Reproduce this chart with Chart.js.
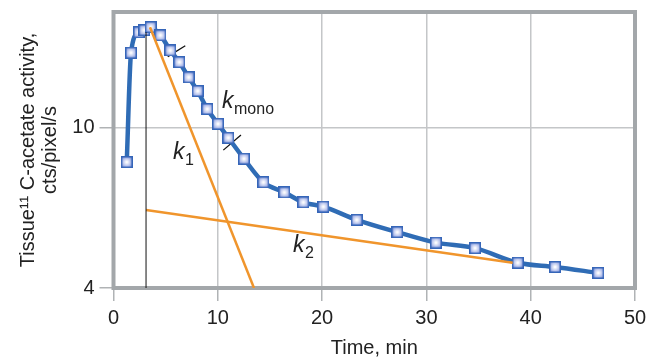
<!DOCTYPE html>
<html>
<head>
<meta charset="utf-8">
<script src="https://cdn.jsdelivr.net/npm/chart.js@4"></script>
<style>
  html, body { margin: 0; padding: 0; background: #fff; }
  #wrap { width: 648px; height: 360px; }
</style>
</head>
<body>
<div id="wrap"><canvas id="acetateChart" width="648" height="360"></canvas></div>
<script>
// measured tissue curve (time in min, activity in cts/pixel/s)
const timeMin = [1.27, 1.68, 2.44, 2.95, 3.57, 4.5, 5.45, 6.31, 7.21, 8.07, 8.99, 10.02, 11.01,
                 12.51, 14.37, 16.38, 18.2, 20.12, 23.32, 27.21, 30.92, 34.66, 38.76, 42.33, 46.48];
const activity = [8.2, 15.3, 17.2, 17.4, 17.7, 16.9, 15.5, 14.5, 13.3, 12.3, 11.1, 10.2, 9.42,
                  8.36, 7.31, 6.9, 6.52, 6.36, 5.9, 5.5, 5.18, 5.02, 4.62, 4.51, 4.36];

// fitted slopes
const k1X = [3.5, 13.47];
const k1Y = [17.7, 4.0];
const k2X = [3.12, 38.27];
const k2Y = [6.24, 4.62];

// vertical marker at start of washout
const startX = [3.12, 3.12];
const startY = [4, 17.2];

// short slashes marking the kmono fit range
const slashAX = [5.2, 6.88];
const slashAY = [14.96, 15.92];
const slashBX = [10.53, 12.22];
const slashBY = [8.78, 9.57];

const xTicks = [0, 10, 20, 30, 40, 50];
const yTicks = [4, 10];

const pairs = (xs, ys) => xs.map((x, i) => ({ x: x, y: ys[i] }));
const FONT = '"Liberation Sans", Arial, sans-serif';

// square marker with a soft light centre
function makeMarker() {
    const c = document.createElement('canvas');
    c.width = 12; c.height = 12;
    const g = c.getContext('2d');
    const grad = g.createRadialGradient(6, 6, 0.5, 6, 6, 7);
    grad.addColorStop(0, '#ffffff');
    grad.addColorStop(0.6, '#aebbea');
    grad.addColorStop(1, '#7088d4');
    g.fillStyle = grad;
    g.fillRect(0, 0, 12, 12);
    g.strokeStyle = '#3565b8';
    g.lineWidth = 1.5;
    g.strokeRect(0.75, 0.75, 10.5, 10.5);
    return c;
}
const marker = makeMarker();

// thick grey frame round the plot area
const framePlugin = {
    id: 'frame',
    beforeDatasetsDraw(chart) {
        const a = chart.chartArea;
        const ctx = chart.ctx;
        ctx.save();
        ctx.strokeStyle = '#a3a7aa';
        ctx.lineWidth = 4;
        ctx.strokeRect(a.left, a.top, a.right - a.left, a.bottom - a.top);
        ctx.restore();
    }
};

// k labels with subscripts
const labelPlugin = {
    id: 'kLabels',
    afterDatasetsDraw(chart) {
        const ctx = chart.ctx;
        ctx.save();
        ctx.fillStyle = '#222';
        ctx.textBaseline = 'alphabetic';
        const put = (x, y, sub) => {
            ctx.font = 'italic 23px ' + FONT;
            ctx.fillText('k', x, y);
            const w = ctx.measureText('k').width;
            ctx.font = '16px ' + FONT;
            ctx.fillText(sub, x + w + 0.5, y + 6);
        };
        put(222, 108, 'mono');
        put(173, 159, '1');
        put(293, 252, '2');
        ctx.restore();
    }
};

const ctx = document.getElementById('acetateChart').getContext('2d');

new Chart(ctx, {
    type: 'scatter',
    data: {
        datasets: [
            {
                data: pairs(startX, startY),
                showLine: true, borderColor: '#111', borderWidth: 1, pointRadius: 0
            },
            {
                data: pairs(k1X, k1Y),
                showLine: true, borderColor: '#f0952c', borderWidth: 2.5, pointRadius: 0
            },
            {
                data: pairs(k2X, k2Y),
                showLine: true, borderColor: '#f0952c', borderWidth: 2.5, pointRadius: 0
            },
            {
                data: pairs(timeMin, activity),
                showLine: true,
                borderColor: '#2f6cb5',
                borderWidth: 4.5,
                cubicInterpolationMode: 'monotone',
                pointStyle: marker,
                pointRadius: 6
            },
            {
                data: pairs(slashAX, slashAY),
                showLine: true, borderColor: '#111', borderWidth: 1.3, pointRadius: 0
            },
            {
                data: pairs(slashBX, slashBY),
                showLine: true, borderColor: '#111', borderWidth: 1.3, pointRadius: 0
            }
        ]
    },
    options: {
        responsive: false,
        animation: false,
        layout: { padding: { top: 12, right: 13, left: 0, bottom: 0 } },
        plugins: {
            legend: { display: false },
            tooltip: { enabled: false }
        },
        scales: {
            x: {
                type: 'linear',
                min: 0,
                max: 50,
                afterBuildTicks: s => { s.ticks = xTicks.map(v => ({ value: v })); },
                afterFit: s => { s.height = 72; s.paddingLeft = 0; s.paddingRight = 0; },
                grid: {
                    color: '#c4c6c8', lineWidth: 1.5,
                    drawTicks: true, tickLength: 13, tickColor: '#b0b3b5'
                },
                border: { display: false },
                ticks: {
                    color: '#222', padding: 5,
                    font: { family: FONT, size: 20 }
                },
                title: {
                    display: true,
                    text: 'Time, min',
                    color: '#222',
                    padding: { top: 0, bottom: 0 },
                    font: { family: FONT, size: 20 }
                }
            },
            y: {
                type: 'logarithmic',
                min: 4,
                max: 19.3,
                afterBuildTicks: s => { s.ticks = yTicks.map(v => ({ value: v })); },
                afterFit: s => { s.width = 113.5; s.paddingTop = 0; s.paddingBottom = 0; },
                grid: {
                    color: '#c4c6c8', lineWidth: 1.5,
                    drawTicks: true, tickLength: 14, tickColor: '#b0b3b5'
                },
                border: { display: false },
                ticks: {
                    color: '#222', padding: 5,
                    callback: v => String(v),
                    font: { family: FONT, size: 20 }
                },
                title: {
                    display: true,
                    text: ['Tissue\u00B9\u00B9 C-acetate activity,', 'cts/pixel/s'],
                    color: '#222',
                    padding: { top: 17, bottom: 0 },
                    font: { family: FONT, size: 20, lineHeight: 1.1 }
                }
            }
        }
    },
    plugins: [framePlugin, labelPlugin]
});
</script>
</body>
</html>
